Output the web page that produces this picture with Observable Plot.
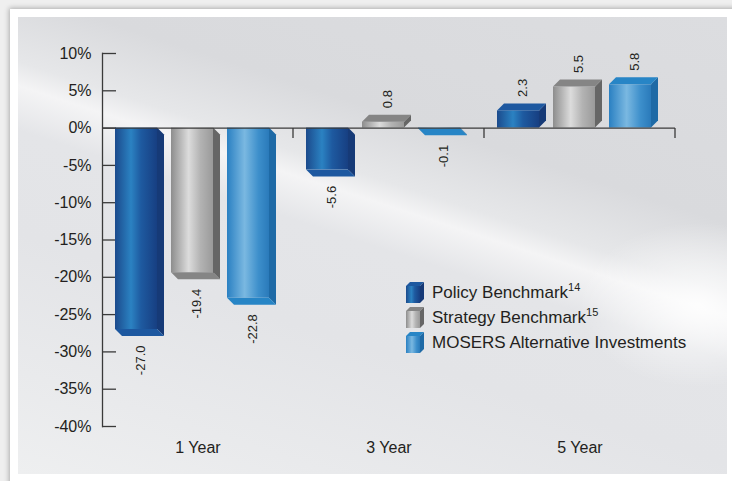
<!DOCTYPE html>
<html><head><meta charset="utf-8">
<script src="https://cdn.jsdelivr.net/npm/d3@7"></script>
<script src="https://cdn.jsdelivr.net/npm/@observablehq/plot@0.6"></script>
<style>
html,body{margin:0;padding:0;}
body{width:732px;height:481px;position:relative;overflow:hidden;background:#efefef;font-family:"Liberation Sans",Arial,sans-serif;color:#231f20;}
#frame{position:absolute;left:10px;top:9px;width:740px;height:490px;background:#fff;box-shadow:-1px -1px 5px rgba(0,0,0,0.28);}
#panel{position:absolute;left:18px;top:17px;width:709px;height:457px;
 background:
  radial-gradient(ellipse 160px 110px at 96% 63%, rgba(255,255,255,0.85), rgba(255,255,255,0) 75%),
  linear-gradient(198deg, #dcdde0 0%, #d9dadd 30%, #e6e7e9 40%, #f4f4f5 43.5%, #e4e5e8 50%, #e3e4e7 65%, #e9eaec 85%, #eeeff0 100%);}
#chart{position:absolute;left:0;top:0;width:732px;height:481px;}
#legend{position:absolute;left:406px;top:280px;font-size:17px;line-height:25px;}
#legend .item{display:flex;align-items:center;height:25px;}
#legend svg{margin-right:7px;}
#legend sup{font-size:11px;line-height:0;vertical-align:7px;}
</style></head><body>
<div id="frame"></div><div id="panel"></div>
<svg width="0" height="0" style="position:absolute;left:0;top:0"><defs id="defs"></defs></svg>
<div id="chart"></div>
<div id="legend"></div>
<script>
// ---- data ----
const periods = ["1 Year", "3 Year", "5 Year"];
const seriesNames = ["Policy Benchmark", "Strategy Benchmark", "MOSERS Alternative Investments"];
const seriesKeys = ["policy", "strategy", "mosers"];
const seriesNotes = ["14", "15", ""];
const policy = [-27.0, -5.6, 2.3];
const strategy = [-19.4, 0.8, 5.5];
const mosers = [-22.8, -0.1, 5.8];
const yTicks = [10, 5, 0, -5, -10, -15, -20, -25, -30, -35, -40];

// ---- styles ----
const frontStops = {
  policy: [[0, "#1b4a8c"], [0.38, "#2b82c2"], [0.62, "#1e5aa0"], [1, "#173f82"]],
  strategy: [[0, "#8d8d8d"], [0.42, "#dcdcdc"], [0.7, "#b3b3b3"], [1, "#9a9a9a"]],
  mosers: [[0, "#2a80c2"], [0.42, "#7ab8e1"], [0.75, "#3d8fcb"], [1, "#2a7aba"]]
};
const sideColor = {policy: "#163a77", strategy: "#666666", mosers: "#1e6aa6"};
const capColor = {policy: "#1d58a0", strategy: "#858585", mosers: "#2785c6"};
const DEPTH = 7;

const defs = d3.select("#defs");
for (const k of seriesKeys) {
  const lg = defs.append("linearGradient").attr("id", "front-" + k).attr("x1", 0).attr("x2", 1).attr("y1", 0).attr("y2", 0);
  for (const [o, c] of frontStops[k]) lg.append("stop").attr("offset", o).attr("stop-color", c);
}

const valuesBySeries = [policy, strategy, mosers];
const rows = periods.flatMap((p, i) => seriesNames.map((s, j) => ({
  period: p, series: s, key: seriesKeys[j], value: valuesBySeries[j][i]
})));

function extrude(index, scales, values, dims, context, next) {
  const g = next(index, scales, values, dims, context);
  const bw = scales.x.bandwidth();
  const sel = d3.select(g);
  for (const i of index) {
    const d = rows[i];
    const x1 = values.x[i], x2 = x1 + bw;
    const y0 = values.y1[i], yv = values.y2[i];
    const s = d.value >= 0 ? -1 : 1;
    const D = DEPTH;
    sel.append("path")
      .attr("d", `M${x2},${y0}L${x2 + D},${y0 + s * D}L${x2 + D},${yv + s * D}L${x2},${yv}Z`)
      .attr("fill", sideColor[d.key]);
    sel.append("path")
      .attr("d", `M${x1},${yv}L${x2},${yv}L${x2 + D},${yv + s * D}L${x1 + D},${yv + s * D}Z`)
      .attr("fill", capColor[d.key]);
  }
  return g;
}

function zeroTicks(index, scales, values, dims, context, next) {
  const g = next(index, scales, values, dims, context);
  const line = g.querySelector("line");
  if (line) {
    const xr = +line.getAttribute("x2"), y = +line.getAttribute("y1");
    d3.select(g).append("line").attr("x1", xr).attr("x2", xr).attr("y1", y).attr("y2", y + 10)
      .attr("stroke", "#3a3a3a").attr("stroke-width", 1.3);
  }
  return g;
}

const txt = {fx: "period", x: "series", y: "value", text: d => d.value.toFixed(1), rotate: -90, fontSize: 13, fill: "#231f20", dx: 4};

const chart = Plot.plot({
  width: 732,
  height: 481,
  marginLeft: 101,
  marginRight: 57,
  marginTop: 53,
  marginBottom: 55,
  style: {background: "transparent", fontSize: "16px", fontFamily: "'Liberation Sans', Arial, sans-serif", color: "#231f20"},
  fx: {domain: periods, padding: 0, axis: "bottom", tickSize: 0, tickPadding: 15, label: null},
  x: {domain: seriesNames, axis: null, paddingInner: 14 / 57, paddingOuter: 0.3012, align: 0.358},
  y: {domain: [-40, 10], axis: null},
  color: {type: "identity"},
  marks: [
    Plot.frame({anchor: "left", facetAnchor: "left", stroke: "#3a3a3a", strokeWidth: 1.3}),
    Plot.axisY({ticks: yTicks, tickFormat: d => d + "%", tickSize: -14, tickPadding: 25, stroke: "#3a3a3a", strokeWidth: 1.3, fill: "#231f20", fontSize: 16, label: null}),
    Plot.barY(rows, {fx: "period", x: "series", y: "value", fill: d => `url(#front-${d.key})`, render: extrude}),
    Plot.ruleY([0], {stroke: "#3a3a3a", strokeWidth: 1.3, render: zeroTicks}),
    Plot.text(rows, {...txt, filter: d => d.value >= 0, textAnchor: "start", dy: -14}),
    Plot.text(rows, {...txt, filter: d => d.value < 0, textAnchor: "end", dy: 16})
  ]
});
document.getElementById("chart").append(chart);

// ---- legend ----
const legend = d3.select("#legend");
seriesKeys.forEach((k, j) => {
  const item = legend.append("div").attr("class", "item");
  const sw = item.append("svg").attr("width", 19).attr("height", 21);
  sw.append("path").attr("d", "M0,4L4,0L18,0L14,4Z").attr("fill", capColor[k]);
  sw.append("path").attr("d", "M14,4L18,0L18,17L14,21Z").attr("fill", sideColor[k]);
  sw.append("rect").attr("x", 0).attr("y", 4).attr("width", 14).attr("height", 17).attr("fill", `url(#front-${k})`);
  const t = item.append("span").text(seriesNames[j]);
  if (seriesNotes[j]) t.append("sup").text(seriesNotes[j]);
});
</script>
</body></html>
